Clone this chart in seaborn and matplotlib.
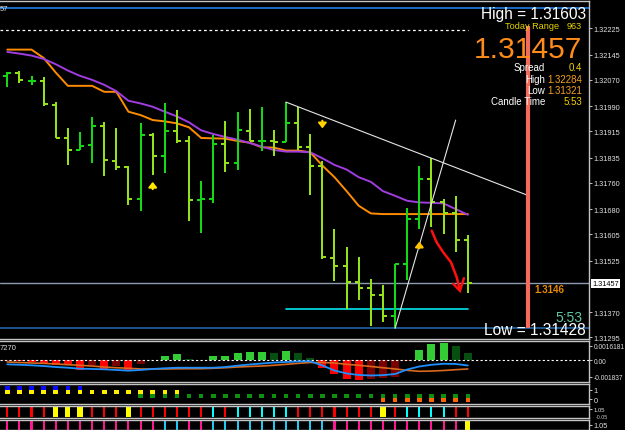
import numpy as np
import pandas as pd
import matplotlib
matplotlib.use("Agg")
import matplotlib.pyplot as plt
import seaborn as sns

# ---- price bars, oldest first (39 bars)
opens = [1.32081, 1.32090, 1.32066, 1.32066, 1.31992, 1.31895, 1.31857, 1.31873, 1.31930, 1.31826,
         1.31808, 1.31710, 1.31903, 1.31839, 1.31916, 1.31884, 1.31708, 1.31710, 1.31875, 1.31820,
         1.31916, 1.31884, 1.31884, 1.31882, 1.31939, 1.31866, 1.31811, 1.31534, 1.31509, 1.31460,
         1.31442, 1.31421, 1.31359, 1.31515, 1.31650, 1.31771, 1.31700, 1.31667, 1.31587]
highs = [1.32094, 1.32095, 1.32081, 1.32077, 1.32001, 1.31923, 1.31911, 1.31956, 1.31941, 1.31925,
         1.31809, 1.31939, 1.31908, 1.31999, 1.31979, 1.31899, 1.31765, 1.31903, 1.31945, 1.31972,
         1.31981, 1.31988, 1.31918, 1.32001, 1.31987, 1.31905, 1.31825, 1.31621, 1.31566, 1.31536,
         1.31470, 1.31452, 1.31515, 1.31683, 1.31810, 1.31833, 1.31709, 1.31720, 1.31603]
lows = [1.32048, 1.32060, 1.32053, 1.31989, 1.31894, 1.31814, 1.31857, 1.31819, 1.31780, 1.31799,
        1.31693, 1.31675, 1.31783, 1.31790, 1.31880, 1.31645, 1.31609, 1.31697, 1.31791, 1.31799,
        1.31884, 1.31854, 1.31839, 1.31881, 1.31857, 1.31723, 1.31529, 1.31464, 1.31379, 1.31405,
        1.31327, 1.31341, 1.31321, 1.31466, 1.31620, 1.31627, 1.31606, 1.31552, 1.31428]
closes = [1.32090, 1.32069, 1.32066, 1.31996, 1.31895, 1.31857, 1.31871, 1.31930, 1.31828, 1.31808,
          1.31710, 1.31902, 1.31839, 1.31916, 1.31886, 1.31708, 1.31710, 1.31875, 1.31820, 1.31917,
          1.31884, 1.31884, 1.31883, 1.31939, 1.31866, 1.31811, 1.31535, 1.31510, 1.31461, 1.31443,
          1.31421, 1.31359, 1.31515, 1.31650, 1.31771, 1.31700, 1.31667, 1.31587, 1.31457]

ma_orange = [1.32160, 1.32160, 1.32160, 1.32135, 1.32091, 1.32051, 1.32051, 1.32051, 1.32033, 1.32033,
             1.31973, 1.31963, 1.31948, 1.31944, 1.31938, 1.31926, 1.31894, 1.31893, 1.31892, 1.31885,
             1.31880, 1.31866, 1.31865, 1.31856, 1.31856, 1.31851, 1.31811, 1.31776, 1.31734, 1.31690,
             1.31667, 1.31665, 1.31665, 1.31665, 1.31665, 1.31665, 1.31665, 1.31665, 1.31665]
ma_purple = [1.32153, 1.32148, 1.32142, 1.32132, 1.32116, 1.32097, 1.32081, 1.32069, 1.32054, 1.32035,
             1.32006, 1.31998, 1.31988, 1.31973, 1.31959, 1.31941, 1.31917, 1.31906, 1.31897, 1.31889,
             1.31879, 1.31868, 1.31858, 1.31853, 1.31853, 1.31851, 1.31833, 1.31813, 1.31799, 1.31776,
             1.31762, 1.31734, 1.31720, 1.31705, 1.31700, 1.31699, 1.31697, 1.31680, 1.31663]

main_ticks = [1.32225, 1.32145, 1.32070, 1.31990, 1.31915, 1.31835, 1.31760, 1.31680,
              1.31605, 1.31525, 1.31370, 1.31295]
last_price = 1.31457
day_high = 1.32284
day_low = 1.31321
level_dash = 1.32219
level_cyan = 1.31379

# trend lines (bar index, price)
trend1 = ([23.0, 42.9], [1.32002, 1.31722])
trend2 = ([32.0, 37.0], [1.31321, 1.31948])
# hand drawn red arrow
red_x = [35.02, 35.43, 35.97, 36.61, 37.08, 37.35]
red_p = [1.31615, 1.31580, 1.31550, 1.31520, 1.31475, 1.31436]
red_head_x = [36.80, 37.35, 37.68]
red_head_p = [1.31455, 1.31434, 1.31472]
# signal arrows: bar, tail, tip
arrow_bar = [12, 26, 34]
arrow_tail = [1.31740, 1.31946, 1.31562]
arrow_tip = [1.31762, 1.31923, 1.31582]
arrow_col = ['#ffe600', '#ffd200', '#ffc400']

# ---- MACD panel (values x 1e-4)
macd_hist = [-0.34, -0.56, -1.68, -3.69, -5.59, -5.81, -10.39, -5.59, -10.39, -6.70,
             -12.29, -3.69, 0.56, 4.47, 7.04, 1.45, 0.34, 4.47, 4.69, 8.15,
             8.94, 9.16, 8.15, 10.39, 8.15, 3.02, -8.94, -15.64, -20.44, -22.34,
             -20.44, -20.11, -18.65, -1.12, 11.95, 18.65, 18.99, 16.42, 8.60]
hist_state = "D R R R R R R D R D R D g G G g g G G G G G g G g g R R R R D D D D G G G g g".split()
macd_main = [-4.5, -5.0, -5.6, -6.4, -7.5, -8.3, -9.4, -9.7, -10.1, -10.8,
             -11.6, -10.8, -9.7, -8.9, -8.3, -8.3, -8.3, -8.3, -7.5, -6.0,
             -4.7, -3.6, -2.5, -1.9, -1.3, -1.1, -5.8, -11.4, -14.7, -16.4,
             -17.0, -16.6, -15.3, -10.3, -6.9, -5.0, -3.9, -4.1, -5.8]
macd_signal = [-1.9, -2.5, -3.0, -3.4, -4.1, -4.9, -5.6, -6.4, -7.5, -8.3,
               -8.9, -9.7, -9.7, -9.7, -9.5, -9.4, -9.4, -8.9, -8.3, -7.5,
               -6.9, -6.4, -5.6, -4.5, -3.4, -2.5, -2.5, -3.0, -4.5, -5.6,
               -6.9, -8.3, -9.7, -11.2, -12.3, -12.0, -11.4, -10.5, -9.7]

# ---- dot panel flags
dot_blue = [1] * 7 + [0] * 32
dot_yellow = [1] * 15 + [0] * 24
dot_green = [0] * 11 + [1] * 28
dot_orange = [0] * 31 + [1] * 8

p3_state = "R R R R Y Y Y R R R Y R R R R R R C R C C C C C R R R R R R R Y R C C C C R R".split()
p4_state = "P P P P P P P P P P P P P C C P P C C C C C C C C C C P P P P P P P P P P P Y".split()

# ---------------------------------------------------------------
W, H = 625, 431
sns.set_theme(style="dark", rc={"axes.facecolor": "black", "figure.facecolor": "black",
                                "axes.edgecolor": "#b8b8b8", "axes.grid": False,
                                "patch.edgecolor": "none", "patch.linewidth": 0})
plt.rcParams['font.family'] = ['Liberation Sans', 'DejaVu Sans']

fig = plt.figure(figsize=(W / 100, H / 100), dpi=100)


def box(top, bottom):
    return [0, 1 - bottom / H, 589 / W, (bottom - top) / H]


ax = fig.add_axes(box(2, 340))
axm = fig.add_axes(box(342, 383))
ax2 = fig.add_axes(box(385, 405))
ax3 = fig.add_axes(box(407, 419))
ax4 = fig.add_axes(box(421, 431))

x = np.arange(len(opens))
XL = (-0.6, 48.0)
BULL, BEAR = '#14d814', '#96e01a'

for a in (ax, axm, ax2, ax3, ax4):
    a.set_facecolor('black')
    a.set_xlim(*XL)
    a.set_xticks([])
    a.yaxis.tick_right()
    a.tick_params(axis='y', colors='#e0e0e0', labelsize=5.3, length=2.2, width=0.6, pad=1.2)
    a.spines['left'].set_visible(False)
    for s in ('top', 'bottom', 'right'):
        a.spines[s].set_color('#c4c4c4')
        a.spines[s].set_linewidth(1.0)

# ---- main chart
ax.set_ylim(1.312890, 1.323063)
ax.set_yticks(main_ticks)
ax.set_yticklabels([f"{t:.5f}" for t in main_ticks])

ax.axhline(day_high, color='#1e74d6', lw=1.3)
ax.axhline(day_low, color='#1f5c99', lw=1.3)
ax.axhline(last_price, color='#8c9bb0', lw=1.0)
ax.plot([XL[0], 38.0], [level_dash, level_dash], color='white', lw=0.9, ls=(0, (2.2, 2.2)))
ax.plot([23.0, 38.0], [level_cyan, level_cyan], color='#00e5ee', lw=1.2)

df = pd.DataFrame({"bar": x, "ma_o": ma_orange, "ma_p": ma_purple})
sns.lineplot(data=df, x="bar", y="ma_o", ax=ax, color='#ff8c00', lw=1.4)
sns.lineplot(data=df, x="bar", y="ma_p", ax=ax, color='#a03ce0', lw=1.4)

up = np.array(closes) >= np.array(opens)
cols = np.where(up, BULL, BEAR)
ax.vlines(x, lows, highs, colors=cols, lw=1.45)
ax.hlines(opens, x - 0.33, x, colors=cols, lw=1.45)
ax.hlines(closes, x, x + 0.33, colors=cols, lw=1.45)

ax.plot(*trend1, color='#e6e6e6', lw=0.8)
ax.plot(*trend2, color='#e6e6e6', lw=0.8)
ax.plot(red_x, red_p, color='#ff1010', lw=1.8, solid_capstyle='round')
ax.plot(red_head_x, red_head_p, color='#ff1010', lw=1.8, solid_joinstyle='miter')
for b, t0, t1, c in zip(arrow_bar, arrow_tail, arrow_tip, arrow_col):
    ax.annotate('', xy=(b, t1), xytext=(b, t0),
                arrowprops=dict(arrowstyle='-|>,head_width=0.2,head_length=0.25',
                                color=c, lw=1.5, shrinkA=0, shrinkB=0))

ax.plot([43.0, 43.0], [1.32231, day_low], color='#f26b5b', lw=3.0, solid_capstyle='butt')
ax.set_ylabel('')
ax.set_xlabel('')

ax.text(1.006, last_price, f"{last_price:.5f}", transform=ax.get_yaxis_transform(),
        fontsize=5.3, color='black', va='center', ha='left',
        bbox=dict(boxstyle='square,pad=0.15', fc='white', ec='white'))

# ---- MACD panel
hist_colors = {'R': '#ff0000', 'D': '#7a0000', 'G': '#34cc34', 'g': '#064f10'}
hv = np.array(macd_hist) * 1e-4
axm.bar(x, hv, width=0.66, color=[hist_colors[s] for s in hist_state], linewidth=0, zorder=2)
axm.axhline(0, color='white', lw=0.8, ls=(0, (2, 2)), zorder=3)
dm = pd.DataFrame({"bar": x, "main": np.array(macd_main) * 1e-4,
                   "signal": np.array(macd_signal) * 1e-4})
sns.lineplot(data=dm, x="bar", y="signal", ax=axm, color='#d8691e', lw=1.2, zorder=4)
sns.lineplot(data=dm, x="bar", y="main", ax=axm, color='#1e90ff', lw=1.3, zorder=5)
axm.set_ylim(-0.002425, 0.002156)
axm.set_yticks([0.0016181, 0.0, -0.001837])
axm.set_yticklabels(['0.0016181', '0.00', '-0.001837'])
axm.tick_params(axis='y', labelsize=4.8)
axm.set_xlabel('')
axm.set_ylabel('')

# ---- dot panel
ax2.set_ylim(-0.505, 1.645)
rows = [(dot_blue, 1.03, '#0a0aff'), (dot_yellow, 0.58, '#ffee00'),
        (dot_green, 0.14, '#0f8f0f'), (dot_orange, -0.30, '#ff6400')]
for flags, base, c in rows:
    f = np.array(flags, dtype=bool)
    ax2.bar(x[f], 0.40, bottom=base, width=0.38, color=c, linewidth=0)
ax2.set_yticks([1, 0])
ax2.set_yticklabels(['1', '0'])

# ---- colour bar panels
p3_colors = {'R': '#ff0000', 'Y': '#ffff00', 'C': '#00ffff'}
w3 = [0.42 if s == 'Y' else 0.17 for s in p3_state]
ax3.set_ylim(0, 1)
ax3.bar(x, 0.83, bottom=0.085, width=w3, color=[p3_colors[s] for s in p3_state], linewidth=0)
ax3.set_yticks([0.72])
ax3.set_yticklabels(['1.05'])
ax3.tick_params(axis='y', labelsize=4.2)
ax3.text(1.012, 0.16, '-0.05', transform=ax3.transAxes, fontsize=3.8, color='#c8c8c8',
         va='center', ha='left')

p4_colors = {'P': '#ff1493', 'C': '#1ec8f0', 'Y': '#ffff00'}
w4 = [0.42 if s == 'Y' else 0.17 for s in p4_state]
ax4.set_ylim(0, 1)
ax4.bar(x, 0.9, bottom=0.0, width=w4, color=[p4_colors[s] for s in p4_state], linewidth=0)
ax4.set_yticks([0.55])
ax4.set_yticklabels(['1.05'])


# ---- info texts
def fx(px):
    return px / W


def fy(py):
    return 1 - py / H


fig.text(fx(0), fy(9.5), "57", color='#e0e0e0', fontsize=5.5, va='center', ha='left')
fig.text(fx(0), fy(349), "7270", color='#e0e0e0', fontsize=5.5, va='center', ha='left')
fig.text(fx(586), fy(14), "High = 1.31603", color='white', fontsize=11.2, va='center', ha='right')
fig.text(fx(559), fy(26.5), "Today Range", color='#e2d200', fontsize=6.6, va='center', ha='right')
fig.text(fx(582), fy(26.5), "963", color='#e2d200', fontsize=6.6, va='center', ha='right')
fig.text(fx(582), fy(49.5), "1.31457", color='#ff8c1a', fontsize=21.6, va='center', ha='right')

info_labels = ["Spread", "High", "Low", "Candle Time"]
info_values = ["0.4", "1.32284", "1.31321", "5:53"]
info_colors = ['#f2d000', '#f5a020', '#f5a020', '#f2d000']
info_y = [68, 80, 91, 102]
for lab, val, c, yy in zip(info_labels, info_values, info_colors, info_y):
    fig.text(fx(545), fy(yy), lab, color='white', fontsize=7.0, va='center', ha='right')
    fig.text(fx(582), fy(yy), val, color=c, fontsize=7.0, va='center', ha='right')

fig.text(fx(534), fy(290), "1.3146", color='#e88a00', fontsize=7.0, fontweight='bold',
         va='center', ha='left')
fig.text(fx(582), fy(318), "5:53", color='#5cc8a0', fontsize=10, va='center', ha='right')
fig.text(fx(586), fy(331), "Low = 1.31428", color='white', fontsize=11.2, va='center', ha='right')

fig.savefig("out.png", dpi=100, facecolor='black')
